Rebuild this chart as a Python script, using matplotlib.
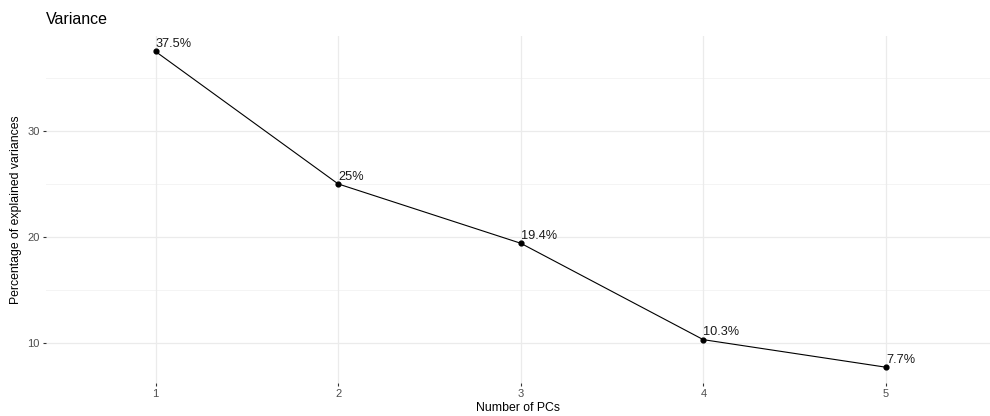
import matplotlib.pyplot as plt
import numpy as np

plt.rcParams['font.family'] = ['Liberation Sans', 'DejaVu Sans']

pcs = [1, 2, 3, 4, 5]
variance = [37.5, 25.0, 19.4, 10.3, 7.7]
labels = ["37.5%", "25%", "19.4%", "10.3%", "7.7%"]

fig = plt.figure(figsize=(9.9, 4.16), dpi=100)
ax = fig.add_axes([46/990, 1 - 383/416, 1 - 46/990, (383 - 35.7)/416])

# grid like theme_minimal
ax.set_axisbelow(True)
for y in [15, 25, 35]:
    ax.axhline(y, color='#f2f2f2', lw=0.6, zorder=0)
for y in [10, 20, 30]:
    ax.axhline(y, color='#ebebeb', lw=0.9, zorder=0)
for x in pcs:
    ax.axvline(x, color='#ebebeb', lw=0.9, zorder=0)

ax.plot(pcs, variance, color='black', lw=0.8, zorder=2)
ax.scatter(pcs, variance, color='black', s=12, zorder=3)
for x, y, t in zip(pcs, variance, labels):
    ax.annotate(t, (x, y), xytext=(0, 1), textcoords='offset points',
                ha='left', va='bottom', fontsize=9.2, color='#1a1a1a')

ax.set_xlim(0.4, 5.57)
ax.set_ylim(6.21, 38.99)
ax.set_xticks(pcs)
ax.set_yticks([10, 20, 30])
for s in ax.spines.values():
    s.set_visible(False)
ax.tick_params(axis='both', colors='#333333', labelcolor='#4d4d4d',
               labelsize=8, length=2.5, width=0.8, pad=2)

ax.set_xlabel('Number of PCs', fontsize=8.8, labelpad=2)
ax.set_ylabel('Percentage of explained variances', fontsize=8.8, labelpad=4)
fig.text(46/990, 1 - 20/416, 'Variance', fontsize=11.5, va='center', ha='left')

fig.savefig('out.png', dpi=100)
